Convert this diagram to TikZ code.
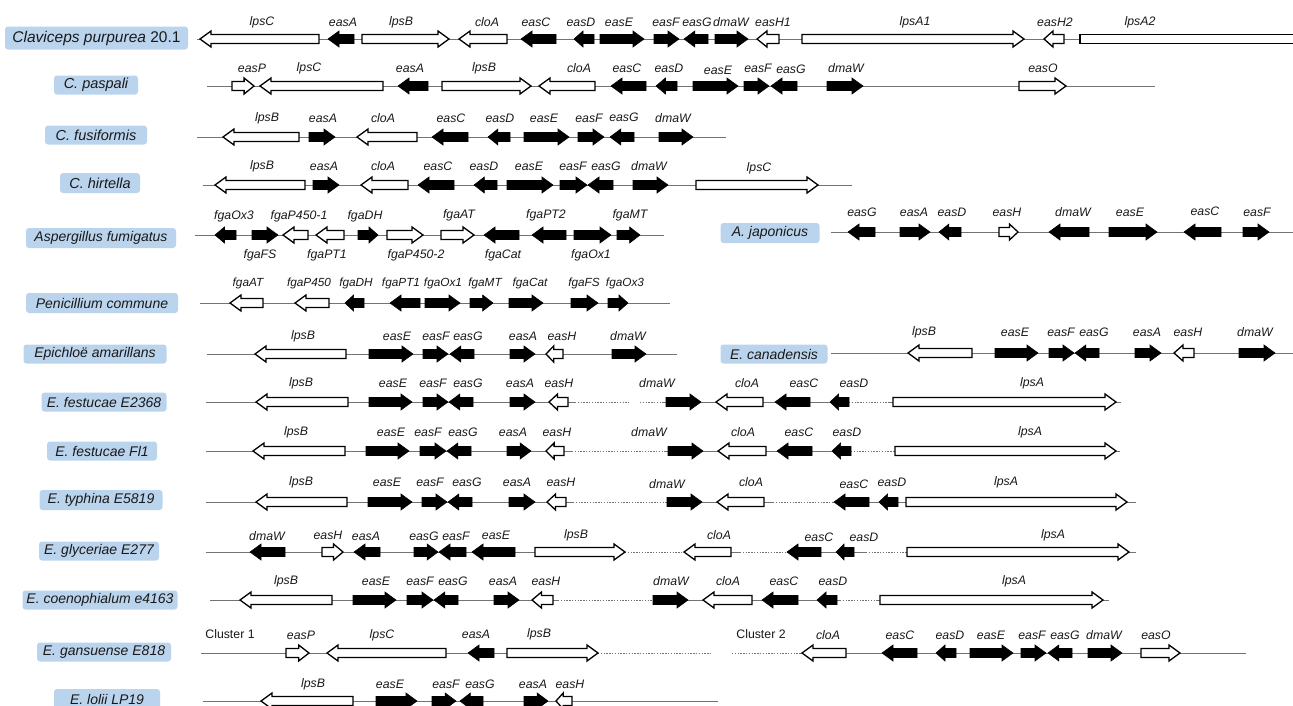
\documentclass[tikz,border=0pt]{standalone}
\usepackage{fontspec}
\setmainfont{Liberation Sans}
\definecolor{spblue}{RGB}{187,212,237}
\newcounter{lc}
\newcommand\gR[4]{\pgfmathsetmacro\ghl{min(11,0.45*(#2-#1))}%
 \draw[#4] (#1,#3-4.5) -- ({#2-\ghl},#3-4.5) -- ({#2-\ghl},#3-8) -- (#2,#3) -- ({#2-\ghl},#3+8) -- ({#2-\ghl},#3+4.5) -- (#1,#3+4.5) -- cycle;}
\newcommand\gL[4]{\pgfmathsetmacro\ghl{min(11,0.45*(#2-#1))}%
 \draw[#4] (#2,#3-4.5) -- ({#1+\ghl},#3-4.5) -- ({#1+\ghl},#3-8) -- (#1,#3) -- ({#1+\ghl},#3+8) -- ({#1+\ghl},#3+4.5) -- (#2,#3+4.5) -- cycle;}
\newcommand\lab[3]{\stepcounter{lc}\node[glab] (lab\arabic{lc}) at (#1,#2) {#3};}
\tikzset{
 bb/.style={draw=black!55, line width=1pt},
 bbdot/.style={draw=black!55, line width=1pt, dash pattern=on 1.3pt off 1.5pt},
 opengene/.style={draw=black, fill=white, line width=1.3pt},
 filgene/.style={draw=black, fill=black, line width=0.6pt},
 glab/.style={font=\fontsize{12.3}{14}\selectfont\itshape, inner sep=0pt, text=black!90},
 clab/.style={font=\fontsize{12.3}{14}\selectfont, inner sep=0pt, text=black!90},
 sp/.style={fill=spblue, rounded corners=3pt, inner sep=0pt, minimum height=19, font=\fontsize{14}{16}\selectfont\itshape, text=black!90}
}
\begin{document}
\begin{tikzpicture}[x=1pt,y=-1pt]
\useasboundingbox (0,0) rectangle (1293,705);
\clip (0,0) rectangle (1293,705);
\fill[white] (0,0) rectangle (1293,705);
% ---------------- Row 1: Claviceps purpurea 20.1
\node[sp, minimum width=183, minimum height=23, font=\fontsize{15.5}{17}\selectfont] (s1) at (96.5,38) {\itshape Claviceps purpurea\upshape\ 20.1};
\draw[bb] (197,39) -- (1300,39);
\gL{200}{319}{39}{opengene}\lab{262}{22}{lpsC}
\gL{328}{354}{39}{filgene}\lab{343}{22}{easA}
\gR{362}{449}{39}{opengene}\lab{401}{22}{lpsB}
\gL{459}{507}{39}{opengene}\lab{487}{22}{cloA}
\gL{521}{556}{39}{filgene}\lab{536}{22}{easC}
\gL{574}{594}{39}{filgene}\lab{581}{22}{easD}
\gR{600}{644}{39}{filgene}\lab{619}{22}{easE}
\gR{654}{679}{39}{filgene}\lab{666}{22}{easF}
\gL{684}{708}{39}{filgene}\lab{697}{22}{easG}
\gR{715}{748}{39}{filgene}\lab{731}{22}{dmaW}
\gL{757}{779}{39}{opengene}\lab{773}{22}{easH1}
\gR{802}{1024}{39}{opengene}\lab{915}{22}{lpsA1}
\gL{1044}{1064}{39}{opengene}\lab{1055}{22}{easH2}
\draw[opengene] (1310,34.5) -- (1080,34.5) -- (1080,43.5) -- (1310,43.5);\lab{1140}{22}{lpsA2}
% ---------------- Row 2: C. paspali
\node[sp, minimum width=84, font=\fontsize{14.5}{16}\selectfont\itshape] (s2) at (96,85) {C. paspali};
\draw[bb] (207,86) -- (1155,86);
\gR{232}{254}{86}{opengene}\lab{252}{68}{easP}
\gL{260}{383}{86}{opengene}\lab{309}{68}{lpsC}
\gL{398}{428}{86}{filgene}\lab{410}{68}{easA}
\gR{442}{531}{86}{opengene}\lab{484}{68}{lpsB}
\gL{539}{595}{86}{opengene}\lab{579}{68}{cloA}
\gL{611}{646}{86}{filgene}\lab{627}{68}{easC}
\gL{656}{677}{86}{filgene}\lab{669}{68}{easD}
\gR{693}{738}{86}{filgene}\lab{718}{70}{easE}
\gR{744}{769}{86}{filgene}\lab{758}{68}{easF}
\gL{771}{797}{86}{filgene}\lab{791}{69}{easG}
\gR{827}{863}{86}{filgene}\lab{846}{68}{dmaW}
\gR{1019}{1066}{86}{opengene}\lab{1043}{68}{easO}
% ---------------- Row 3: C. fusiformis
\node[sp, minimum width=102, font=\fontsize{14.5}{16}\selectfont\itshape] (s3) at (96,135) {C. fusiformis};
\draw[bb] (197,137) -- (726,137);
\gL{223}{299}{137}{opengene}\lab{267}{118}{lpsB}
\gR{309}{335}{137}{filgene}\lab{323}{118}{easA}
\gL{357}{417}{137}{opengene}\lab{383}{118}{cloA}
\gL{432}{468}{137}{filgene}\lab{451}{118}{easC}
\gL{488}{510}{137}{filgene}\lab{500}{118}{easD}
\gR{524}{569}{137}{filgene}\lab{544}{118}{easE}
\gR{578}{604}{137}{filgene}\lab{589}{118}{easF}
\gL{610}{634}{137}{filgene}\lab{624}{117}{easG}
\gR{659}{693}{137}{filgene}\lab{673}{118}{dmaW}
% ---------------- Row 4: C. hirtella
\node[sp, minimum width=80, minimum height=20, font=\fontsize{14.5}{16}\selectfont\itshape] (s4) at (100,183) {C. hirtella};
\draw[bb] (203,185) -- (852,185);
\gL{215}{305}{185}{opengene}\lab{262}{166}{lpsB}
\gR{313}{339}{185}{filgene}\lab{324}{166}{easA}
\gL{361}{408}{185}{opengene}\lab{383}{166}{cloA}
\gL{418}{454}{185}{filgene}\lab{438}{166}{easC}
\gL{474}{497}{185}{filgene}\lab{484}{166}{easD}
\gR{507}{553}{185}{filgene}\lab{529}{166}{easE}
\gR{560}{587}{185}{filgene}\lab{573}{166}{easF}
\gL{588}{613}{185}{filgene}\lab{606}{166}{easG}
\gR{633}{668}{185}{filgene}\lab{649}{166}{dmaW}
\gR{696}{818}{185}{opengene}\lab{759}{168}{lpsC}
% ---------------- Row 5: Aspergillus fumigatus
\node[sp, minimum width=150, minimum height=20] (s5) at (101,238) {Aspergillus fumigatus};
\draw[bb] (195,235) -- (664,235);
\gL{215}{236}{235}{filgene}\lab{234}{216}{fgaOx3}
\gR{252}{278}{235}{filgene}\lab{260}{255}{fgaFS}
\gL{283}{308}{235}{opengene}\lab{299}{216}{fgaP450-1}
\gL{316}{344}{235}{opengene}\lab{327}{255}{fgaPT1}
\gR{358}{378}{235}{filgene}\lab{365}{216}{fgaDH}
\gR{387}{423}{235}{opengene}\lab{416}{255}{fgaP450-2}
\gR{441}{474}{235}{opengene}\lab{459}{215}{fgaAT}
\gL{484}{519}{235}{filgene}\lab{503}{255}{fgaCat}
\gL{532}{566}{235}{filgene}\lab{546}{215}{fgaPT2}
\gR{574}{611}{235}{filgene}\lab{591}{255}{fgaOx1}
\gR{617}{640}{235}{filgene}\lab{630}{215}{fgaMT}
% ---------------- A. japonicus
\node[sp, minimum width=99, minimum height=20] (s5b) at (770,233) {A. japonicus};
\draw[bb] (831,232) -- (1300,232);
\gL{848}{875}{232}{filgene}\lab{862}{212}{easG}
\gR{900}{930}{232}{filgene}\lab{914}{212}{easA}
\gL{939}{961}{232}{filgene}\lab{952}{212}{easD}
\gR{999}{1018}{232}{opengene}\lab{1007}{212}{easH}
\gL{1049}{1089}{232}{filgene}\lab{1073}{212}{dmaW}
\gR{1109}{1157}{232}{filgene}\lab{1130}{212}{easE}
\gL{1184}{1221}{232}{filgene}\lab{1205}{211}{easC}
\gR{1243}{1269}{232}{filgene}\lab{1257}{212}{easF}
% ---------------- Row 6: Penicillium commune
\node[sp, minimum width=152, minimum height=20] (s6) at (102,303) {Penicillium commune};
\draw[bb] (200,303) -- (670,303);
\begin{scope}[glab/.append style={font=\fontsize{11.8}{14}\selectfont\itshape}]
\gL{230}{263}{303}{opengene}\lab{248}{283}{fgaAT}
\gL{295}{329}{303}{opengene}\lab{309}{283}{fgaP450}
\gL{345}{364}{303}{filgene}\lab{356}{283}{fgaDH}
\gL{390}{420}{303}{filgene}\lab{401}{283}{fgaPT1}
\gR{425}{460}{303}{filgene}\lab{443}{283}{fgaOx1}
\gR{470}{493}{303}{filgene}\lab{485}{283}{fgaMT}
\gR{509}{543}{303}{filgene}\lab{530}{283}{fgaCat}
\gR{571}{598}{303}{filgene}\lab{584}{283}{fgaFS}
\gR{608}{628}{303}{filgene}\lab{625}{283}{fgaOx3}
\end{scope}
% ---------------- Row 7: Epichloe amarillans
\node[sp, minimum width=143] (s7) at (95,354) {Epichloë amarillans};
\draw[bb] (207,354) -- (677,354);
\gL{255}{346}{354}{opengene}\lab{303}{336}{lpsB}
\gR{369}{413}{354}{filgene}\lab{397}{336}{easE}
\gR{423}{448}{354}{filgene}\lab{436}{336}{easF}
\gL{450}{474}{354}{filgene}\lab{468}{336}{easG}
\gR{510}{535}{354}{filgene}\lab{523}{336}{easA}
\gL{546}{563}{354}{opengene}\lab{562}{336}{easH}
\gR{612}{646}{354}{filgene}\lab{628}{336}{dmaW}
% ---------------- E. canadensis
\node[sp, minimum width=107] (s7b) at (774,354) {E. canadensis};
\draw[bb] (831,353) -- (1300,353);
\gL{908}{972}{353}{opengene}\lab{924}{332}{lpsB}
\gR{995}{1038}{353}{filgene}\lab{1015}{332}{easE}
\gR{1049}{1074}{353}{filgene}\lab{1061}{332}{easF}
\gL{1075}{1099}{353}{filgene}\lab{1094}{332}{easG}
\gR{1135}{1161}{353}{filgene}\lab{1147}{332}{easA}
\gL{1174}{1194}{353}{opengene}\lab{1188}{332}{easH}
\gR{1239}{1275}{353}{filgene}\lab{1255}{332}{dmaW}
% ---------------- Row 8: E. festucae E2368
\node[sp, minimum width=125] (s8) at (104,402) {E. festucae E2368};
\draw[bb] (206,402) -- (575,402);
\draw[bbdot] (575,402) -- (629,402);
\draw[bbdot] (640,402) -- (664,402);
\draw[bb] (664,402) -- (849,402);
\draw[bbdot] (849,402) -- (888,402);
\draw[bb] (888,402) -- (1121,402);
\gL{256}{348}{402}{opengene}\lab{301}{383}{lpsB}
\gR{369}{412}{402}{filgene}\lab{393}{383}{easE}
\gR{423}{448}{402}{filgene}\lab{433}{383}{easF}
\gL{449}{473}{402}{filgene}\lab{468}{383}{easG}
\gR{510}{535}{402}{filgene}\lab{520}{383}{easA}
\gL{549}{568}{402}{opengene}\lab{559}{383}{easH}
\gR{666}{701}{402}{filgene}\lab{657}{383}{dmaW}
\gL{716}{763}{402}{opengene}\lab{747}{383}{cloA}
\gL{775}{810}{402}{filgene}\lab{804}{383}{easC}
\gL{830}{849}{402}{filgene}\lab{854}{383}{easD}
\gR{893}{1116}{402}{opengene}\lab{1032}{383}{lpsA}
% ---------------- Row 9: E. festucae Fl1
\node[sp, minimum width=110] (s9) at (102,451) {E. festucae Fl1};
\draw[bb] (206,451) -- (572,451);
\draw[bbdot] (572,451) -- (666,451);
\draw[bb] (666,451) -- (851,451);
\draw[bbdot] (851,451) -- (893,451);
\draw[bb] (893,451) -- (1120,451);
\gL{253}{345}{451}{opengene}\lab{296}{432}{lpsB}
\gR{366}{409}{451}{filgene}\lab{391}{432}{easE}
\gR{420}{446}{451}{filgene}\lab{428}{432}{easF}
\gL{447}{471}{451}{filgene}\lab{463}{432}{easG}
\gR{507}{531}{451}{filgene}\lab{513}{432}{easA}
\gL{546}{564}{451}{opengene}\lab{557}{432}{easH}
\gR{668}{703}{451}{filgene}\lab{649}{432}{dmaW}
\gL{718}{766}{451}{opengene}\lab{743}{432}{cloA}
\gL{777}{812}{451}{filgene}\lab{799}{432}{easC}
\gL{832}{851}{451}{filgene}\lab{847}{432}{easD}
\gR{895}{1116}{451}{opengene}\lab{1030}{432}{lpsA}
% ---------------- Row 10: E. typhina E5819
\node[sp, minimum width=123, minimum height=20] (s10) at (101,500) {E. typhina E5819};
\draw[bb] (206,502) -- (573,502);
\draw[bbdot] (573,502) -- (666,502);
\draw[bb] (666,502) -- (773,502);
\draw[bbdot] (773,502) -- (832,502);
\draw[bb] (832,502) -- (1136,502);
\gL{256}{347}{502}{opengene}\lab{301}{482}{lpsB}
\gR{368}{412}{502}{filgene}\lab{387}{482}{easE}
\gR{422}{447}{502}{filgene}\lab{430}{482}{easF}
\gL{448}{472}{502}{filgene}\lab{467}{482}{easG}
\gR{509}{535}{502}{filgene}\lab{517}{482}{easA}
\gL{547}{566}{502}{opengene}\lab{561}{482}{easH}
\gR{667}{702}{502}{filgene}\lab{667}{484}{dmaW}
\gL{717}{764}{502}{opengene}\lab{751}{482}{cloA}
\gL{834}{869}{502}{filgene}\lab{854}{484}{easC}
\gL{879}{898}{502}{filgene}\lab{892}{482}{easD}
\gR{906}{1127}{502}{opengene}\lab{1006}{482}{lpsA}
% ---------------- Row 11: E. glyceriae E277
\node[sp, minimum width=120] (s11) at (99,551) {E. glyceriae E277};
\draw[bb] (206,552) -- (625,552);
\draw[bbdot] (625,552) -- (684,552);
\draw[bb] (684,552) -- (740,552);
\draw[bbdot] (740,552) -- (787,552);
\draw[bb] (787,552) -- (866,552);
\draw[bbdot] (866,552) -- (905,552);
\draw[bb] (905,552) -- (1136,552);
\gL{250}{285}{552}{filgene}\lab{267}{536}{dmaW}
\gR{322}{343}{552}{opengene}\lab{328}{535}{easH}
\gL{354}{380}{552}{filgene}\lab{366}{536}{easA}
\gR{414}{438}{552}{filgene}\lab{424}{536}{easG}
\gL{439}{466}{552}{filgene}\lab{456}{536}{easF}
\gL{472}{515}{552}{filgene}\lab{496}{535}{easE}
\gR{535}{625}{552}{opengene}\lab{576}{535}{lpsB}
\gL{684}{731}{552}{opengene}\lab{719}{535}{cloA}
\gL{787}{821}{552}{filgene}\lab{819}{537}{easC}
\gL{836}{854}{552}{filgene}\lab{864}{537}{easD}
\gR{907}{1129}{552}{opengene}\lab{1053}{535}{lpsA}
% ---------------- Row 12: E. coenophialum e4163
\node[sp, minimum width=155] (s12) at (100,600) {E. coenophialum e4163};
\draw[bb] (210,600) -- (558,600);
\draw[bbdot] (558,600) -- (653,600);
\draw[bb] (653,600) -- (840,600);
\draw[bbdot] (840,600) -- (876,600);
\draw[bb] (876,600) -- (1109,600);
\gL{240}{332}{600}{opengene}\lab{286}{581}{lpsB}
\gR{353}{396}{600}{filgene}\lab{376}{581}{easE}
\gR{407}{433}{600}{filgene}\lab{420}{581}{easF}
\gL{434}{458}{600}{filgene}\lab{453}{581}{easG}
\gR{494}{519}{600}{filgene}\lab{503}{581}{easA}
\gL{532}{553}{600}{opengene}\lab{546}{581}{easH}
\gR{653}{688}{600}{filgene}\lab{671}{581}{dmaW}
\gL{703}{752}{600}{opengene}\lab{728}{581}{cloA}
\gL{762}{798}{600}{filgene}\lab{784}{581}{easC}
\gL{817}{837}{600}{filgene}\lab{833}{581}{easD}
\gR{880}{1103}{600}{opengene}\lab{1014}{581}{lpsA}
% ---------------- Row 13: E. gansuense E818
\node[sp, minimum width=134] (s13) at (104,652) {E. gansuense E818};
\draw[bb] (201,653) -- (598,653);
\draw[bbdot] (598,653) -- (711,653);
\draw[bbdot] (732,653) -- (801,653);
\draw[bb] (801,653) -- (1246,653);
\node[clab] (c1) at (230,634) {Cluster 1};
\node[clab] (c2) at (761,634) {Cluster 2};
\gR{286}{309}{653}{opengene}\lab{301}{635}{easP}
\gL{327}{446}{653}{opengene}\lab{382}{635}{lpsC}
\gL{468}{494}{653}{filgene}\lab{476}{634}{easA}
\gR{507}{598}{653}{opengene}\lab{539}{634}{lpsB}
\gL{802}{846}{653}{opengene}\lab{828}{635}{cloA}
\gL{882}{917}{653}{filgene}\lab{900}{635}{easC}
\gL{936}{956}{653}{filgene}\lab{950}{635}{easD}
\gR{970}{1013}{653}{filgene}\lab{991}{635}{easE}
\gR{1021}{1046}{653}{filgene}\lab{1032}{635}{easF}
\gL{1048}{1072}{653}{filgene}\lab{1065}{635}{easG}
\gR{1088}{1122}{653}{filgene}\lab{1104}{635}{dmaW}
\gR{1141}{1180}{653}{opengene}\lab{1156}{635}{easO}
% ---------------- Row 14: E. lolii LP19
\node[sp, minimum width=106, minimum height=20] (s14) at (107,699) {E. lolii LP19};
\draw[bb] (203,701) -- (718,701);
\gL{261}{353}{701}{opengene}\lab{313}{684}{lpsB}
\gR{376}{417}{701}{filgene}\lab{390}{684}{easE}
\gR{432}{456}{701}{filgene}\lab{446}{684}{easF}
\gL{460}{483}{701}{filgene}\lab{480}{684}{easG}
\gR{524}{548}{701}{filgene}\lab{533}{684}{easA}
\gL{556}{572}{701}{opengene}\lab{570}{684}{easH}
\end{tikzpicture}
\end{document}
